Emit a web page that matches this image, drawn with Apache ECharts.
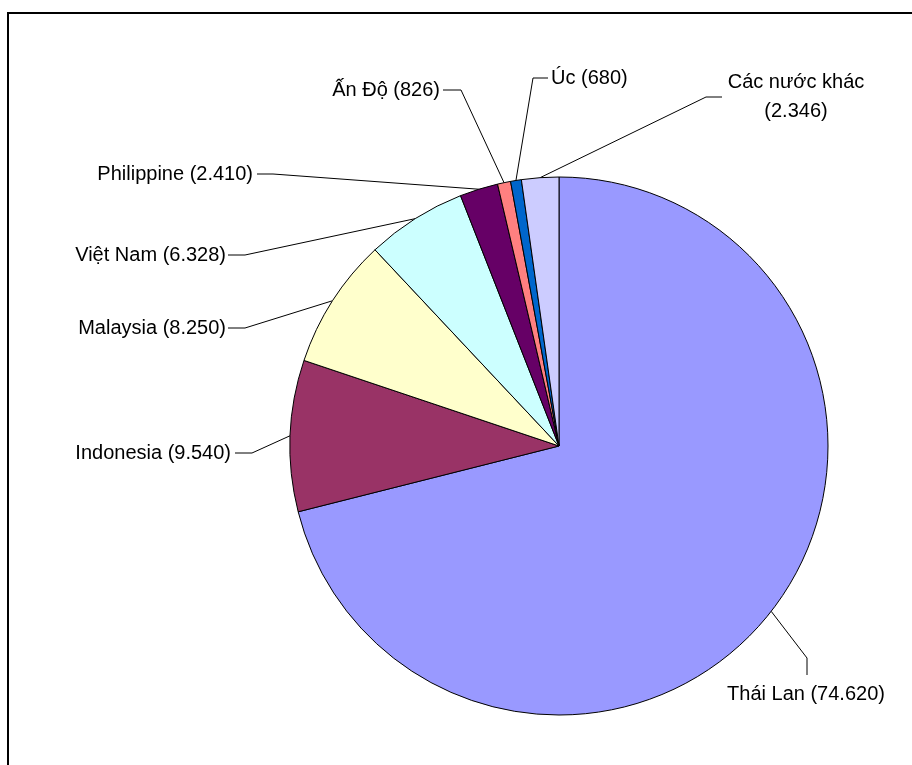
<!DOCTYPE html>
<html>
<head>
<meta charset="utf-8">
<script src="https://cdn.jsdelivr.net/npm/echarts@6/dist/echarts.min.js"></script>
<style>
  html, body { margin: 0; padding: 0; background: #ffffff; }
  #chart { width: 912px; height: 765px; }
</style>
</head>
<body>
<div id="chart"></div>
<script>
// Import volumes by source country
const countries = ['Thái Lan', 'Indonesia', 'Malaysia', 'Việt Nam', 'Philippine', 'Ấn Độ', 'Úc', 'Các nước khác'];
const values = [74620, 9540, 8250, 6328, 2410, 826, 680, 2346];
const sliceColors = ['#9999FF', '#993366', '#FFFFCC', '#CCFFFF', '#660066', '#FF8080', '#0066CC', '#CCCCFF'];
// names whose value goes on a second line
const wrapValue = [false, false, false, false, false, false, false, true];

// label anchors and leader-line bend points, in pixels
const labelPlacement = [
  { x: 806, y: 694, align: 'center', bend: [[807, 658], [807, 675]] },
  { x: 231, y: 453, align: 'right',  bend: [[252, 453], [235, 453]] },
  { x: 226, y: 328, align: 'right',  bend: [[245, 328], [228, 328]] },
  { x: 226, y: 255, align: 'right',  bend: [[245, 255], [228, 255]] },
  { x: 253, y: 174, align: 'right',  bend: [[273, 174], [257, 174]] },
  { x: 440, y: 90,  align: 'right',  bend: [[461, 90], [443, 90]] },
  { x: 551, y: 78,  align: 'left',   bend: [[533, 78], [548, 78]] },
  { x: 796, y: 97,  align: 'center', bend: [[706, 97], [722, 97]] }
];

function formatThousands(v) {
  return String(v).replace(/\B(?=(\d{3})+(?!\d))/g, '.');
}

const chart = echarts.init(document.getElementById('chart'), null, { renderer: 'canvas' });

chart.setOption({
  backgroundColor: '#ffffff',
  animation: false,
  textStyle: { fontFamily: '"Liberation Sans", Arial, sans-serif' },
  graphic: [{
    type: 'rect',
    silent: true,
    shape: { x: 8, y: 13, width: 1200, height: 1200 },
    style: { fill: 'none', stroke: '#000000', lineWidth: 2 }
  }],
  series: [{
    type: 'pie',
    center: [559, 446],
    radius: 269,
    startAngle: 90,
    clockwise: true,
    avoidLabelOverlap: false,
    emphasis: { disabled: true },
    itemStyle: { borderColor: '#000000', borderWidth: 1 },
    label: {
      show: true,
      position: 'outside',
      color: '#000000',
      fontSize: 20,
      lineHeight: 29,
      fontFamily: '"Liberation Sans", Arial, sans-serif',
      formatter: function (p) {
        const sep = wrapValue[p.dataIndex] ? '\n' : ' ';
        return p.name + sep + '(' + formatThousands(p.value) + ')';
      }
    },
    labelLine: {
      show: true,
      length: 10,
      length2: 10,
      smooth: false,
      lineStyle: { color: '#000000', width: 1 }
    },
    labelLayout: function (params) {
      const lp = labelPlacement[params.dataIndex];
      const start = params.labelLinePoints ? params.labelLinePoints[0] : lp.bend[0];
      return {
        x: lp.x,
        y: lp.y,
        align: lp.align,
        verticalAlign: 'middle',
        labelLinePoints: [start, lp.bend[0], lp.bend[1]]
      };
    },
    data: countries.map(function (name, i) {
      return { name: name, value: values[i], itemStyle: { color: sliceColors[i] } };
    })
  }]
});
</script>
</body>
</html>
